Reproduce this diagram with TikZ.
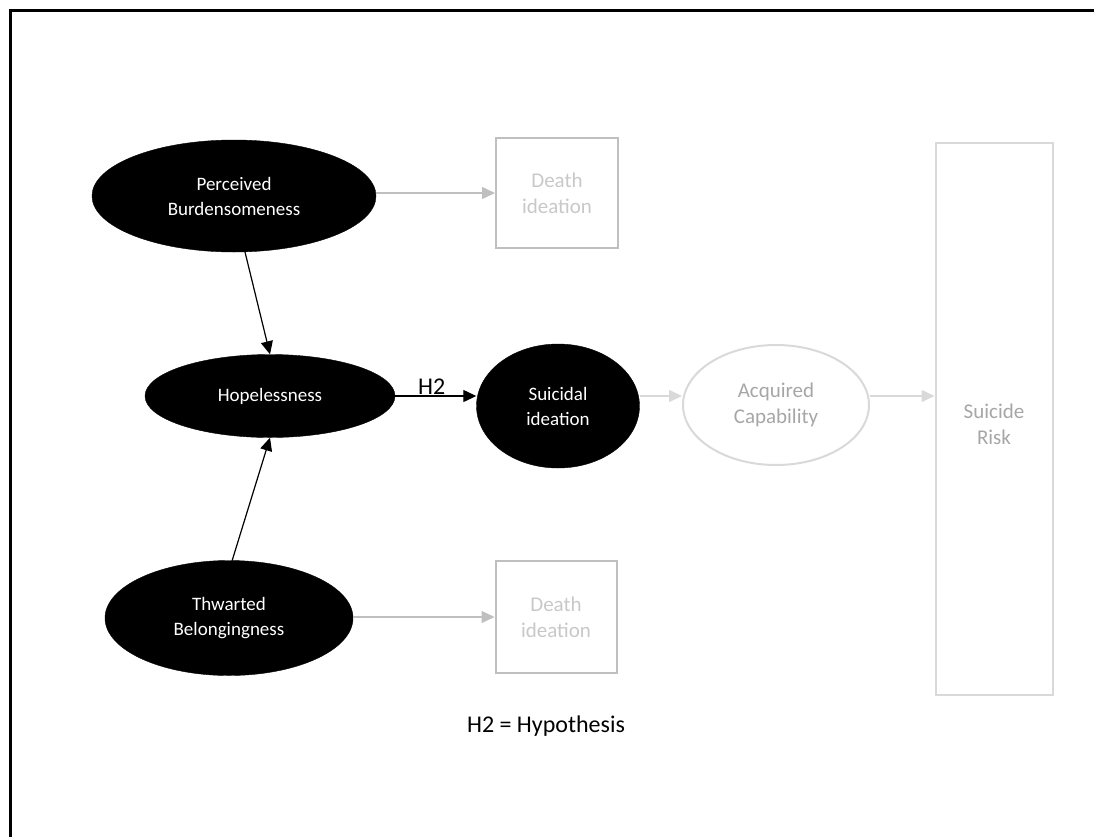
\documentclass[tikz,border=0pt]{standalone}
\usepackage{fontspec}
\setmainfont{Carlito}
\usetikzlibrary{arrows.meta,shapes.geometric}
\definecolor{lgray}{HTML}{BFBFBF}
\definecolor{vlgray}{HTML}{D9D9D9}
\definecolor{dtgray}{HTML}{C8C8C8}
\definecolor{tgray}{HTML}{A6A6A6}
\tikzset{
  blackell/.style={ellipse, fill=black, draw=black, text=white, inner sep=0pt, align=center, font=\fontsize{19}{25}\selectfont},
  grayell/.style={ellipse, draw=vlgray, line width=2pt, text=tgray, inner sep=0pt, align=center, font=\fontsize{21}{26}\selectfont},
  graybox/.style={rectangle, draw=lgray, line width=2pt, text=dtgray, inner sep=0pt, align=center, font=\fontsize{21}{26}\selectfont},
  riskbox/.style={rectangle, draw=vlgray, line width=2pt, text=tgray, inner sep=0pt, align=center, font=\fontsize{21}{26}\selectfont},
  blackarr/.style={-{Triangle[length=13pt,width=12pt]}, line width=1.2pt, black},
  grayarr/.style={-{Triangle[length=13pt,width=12pt]}, line width=1.5pt, lgray},
  vgrayarr/.style={-{Triangle[length=13pt,width=12pt]}, line width=1.5pt, vlgray},
}
\begin{document}
\begin{tikzpicture}[x=1pt,y=-1pt]
\useasboundingbox (0,0) rectangle (1094,836);
\begin{scope}
\clip (0,0) rectangle (1094,836);
\draw[line width=3pt, black] (10,10) rectangle (1120,860);
\end{scope}

\node[blackell, minimum width=284pt, minimum height=112pt] (pb) at (234,196) {Perceived\\Burdensomeness};
\node[blackell, minimum width=250pt, minimum height=83pt] (hp) at (270,396) {Hopelessness};
\node[blackell, minimum width=248pt, minimum height=115pt] (tb) at (229,618) {Thwarted\\Belongingness};
\node[blackell, minimum width=163pt, minimum height=124pt] (si) at (558,406) {Suicidal\\ideation};

\node[graybox, minimum width=122pt, minimum height=110pt] (d1) at (557,193) {Death\\ideation};
\node[graybox, minimum width=121pt, minimum height=112pt] (d2) at (556,617) {Death\\ideation};
\node[grayell, minimum width=186pt, minimum height=120pt] (ac) at (776,405) {Acquired\\Capability};
\node[riskbox, minimum width=117pt, minimum height=552pt] (sr) at (994,419) {};
\node[text=tgray, align=center, font=\fontsize{21}{26}\selectfont] (srt) at (994,424) {Suicide\\Risk};

\coordinate (pbs) at (245,252);
\coordinate (tbn) at (232,561);
\coordinate (ar) at (0,396);

\draw[grayarr] (pb.east |- d1.west) -- (d1.west);
\draw[grayarr] (tb.east |- d2.west) -- (d2.west);
\draw[blackarr] (pbs) -- (hp.north);
\draw[blackarr] (tbn) -- (hp.south);
\draw[blackarr] (hp.east) -- node[above, font=\fontsize{24}{28}\selectfont, inner sep=1pt, xshift=-4pt] (h2) {H2} (hp.east -| si.west);
\draw[vgrayarr] (si.east |- ar) -- (ac.west |- ar);
\draw[vgrayarr] (ac.east |- ar) -- (sr.west |- ar);

\node[font=\fontsize{24}{28}\selectfont] (leg) at (546,726) {H2 = Hypothesis};
\end{tikzpicture}
\end{document}
